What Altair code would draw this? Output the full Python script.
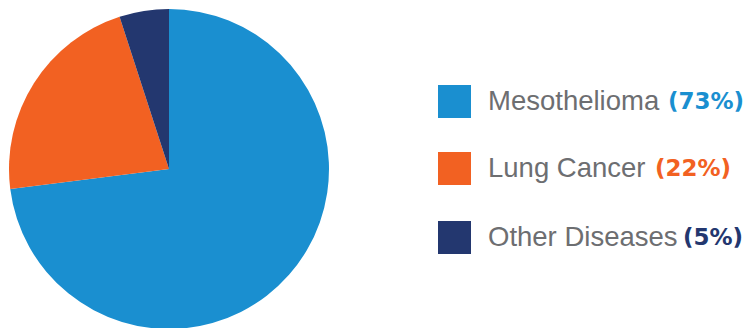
import altair as alt
import pandas as pd

categories = ["Mesothelioma", "Lung Cancer", "Other Diseases"]
shares = [73, 22, 5]
pct_labels = ["(73%)", "(22%)", "(5%)"]
colors = ["#1a8fd0", "#f26122", "#23376f"]

# layout (pixel positions inside the plot area)
row_y = [93.5, 160.5, 229.5]
pct_x = [660, 647, 675]

pie_df = pd.DataFrame({"cat": categories, "share": shares, "order": [0, 1, 2]})
leg_df = pd.DataFrame({"cat": categories, "pct": pct_labels, "ry": row_y, "px": pct_x})

color_scale = alt.Scale(domain=categories, range=colors)

pie = alt.Chart(pie_df).mark_arc(radius=160, stroke=None).encode(
    theta=alt.Theta("share:Q", stack=True),
    order=alt.Order("order:Q"),
    color=alt.Color("cat:N", scale=color_scale, legend=None),
    x=alt.value(161),
    y=alt.value(161),
)

squares = alt.Chart(leg_df).mark_square(size=1089, opacity=1).encode(
    x=alt.value(446.5),
    y=alt.Y("ry:Q", scale=None),
    color=alt.Color("cat:N", scale=color_scale, legend=None),
)

labels = alt.Chart(leg_df).mark_text(
    align="left", baseline="middle", font="Liberation Sans", fontSize=27.5, color="#6d6e71"
).encode(
    x=alt.value(480),
    y=alt.Y("ry:Q", scale=None),
    text="cat:N",
)

pcts = alt.Chart(leg_df).mark_text(
    align="left", baseline="middle", font="DejaVu Sans", fontWeight="bold", fontSize=23
).encode(
    x=alt.X("px:Q", scale=None),
    y=alt.Y("ry:Q", scale=None),
    text="pct:N",
    color=alt.Color("cat:N", scale=color_scale, legend=None),
)

chart = alt.layer(pie, squares, labels, pcts).properties(
    width=737, height=320, padding=0, autosize="none"
).configure_view(stroke=None)

chart.save("out.html", embed_options={"renderer": "svg", "actions": False})
